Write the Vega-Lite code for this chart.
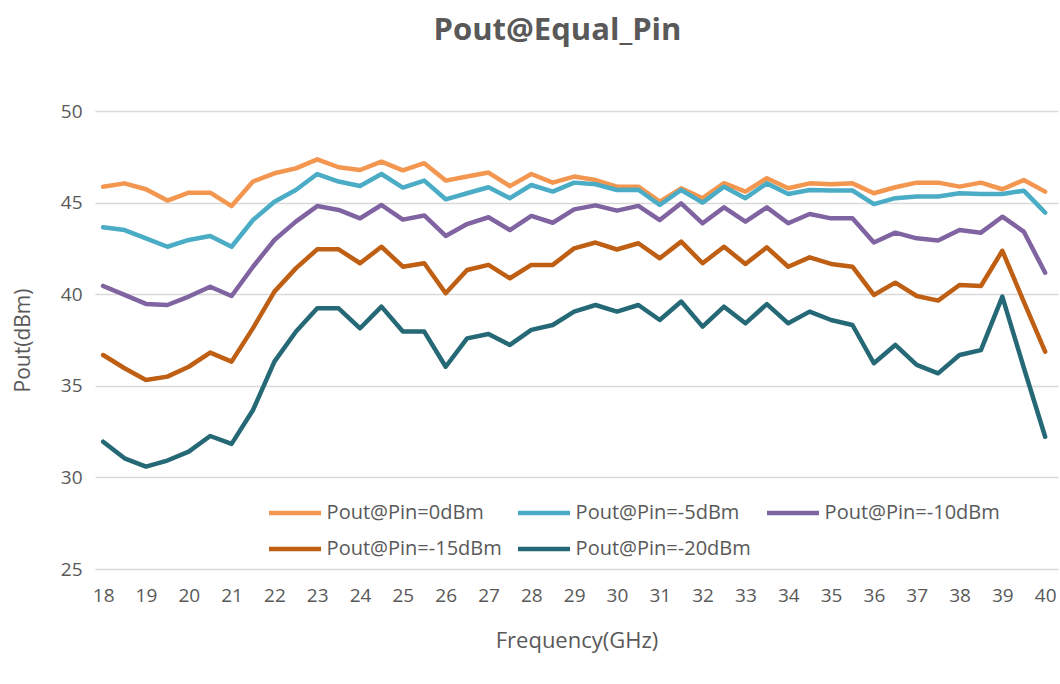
{
  "$schema": "https://vega.github.io/schema/vega-lite/v6.json",
  "width": 963,
  "height": 458,
  "autosize": {"type": "none"},
  "padding": {"left": 95, "top": 111, "right": 2, "bottom": 115},
  "background": "white",
  "title": {"text": "Pout@Equal_Pin", "font": "Open Sans", "fontSize": 31, "fontWeight": "bold", "color": "#595959", "anchor": "middle", "dx": -19, "baseline": "alphabetic", "offset": 31},
  "data": {"values": [
    {"f": 18, "a": 45.87, "b": 43.65, "c": 40.45, "d": 36.68, "e": 31.95},
    {"f": 18.5, "a": 46.05, "b": 43.5, "c": 39.96, "d": 35.96, "e": 31.04},
    {"f": 19, "a": 45.73, "b": 43.05, "c": 39.47, "d": 35.32, "e": 30.59},
    {"f": 19.5, "a": 45.11, "b": 42.59, "c": 39.41, "d": 35.5, "e": 30.92},
    {"f": 20, "a": 45.54, "b": 42.96, "c": 39.87, "d": 36.04, "e": 31.41},
    {"f": 20.5, "a": 45.54, "b": 43.18, "c": 40.41, "d": 36.81, "e": 32.26},
    {"f": 21, "a": 44.81, "b": 42.59, "c": 39.9, "d": 36.32, "e": 31.83},
    {"f": 21.5, "a": 46.15, "b": 44.05, "c": 41.5, "d": 38.15, "e": 33.68},
    {"f": 22, "a": 46.6, "b": 45.05, "c": 42.96, "d": 40.14, "e": 36.32},
    {"f": 22.5, "a": 46.87, "b": 45.69, "c": 43.96, "d": 41.41, "e": 37.95},
    {"f": 23, "a": 47.36, "b": 46.56, "c": 44.81, "d": 42.45, "e": 39.23},
    {"f": 23.5, "a": 46.93, "b": 46.15, "c": 44.6, "d": 42.45, "e": 39.23},
    {"f": 24, "a": 46.78, "b": 45.91, "c": 44.14, "d": 41.69, "e": 38.14},
    {"f": 24.5, "a": 47.24, "b": 46.56, "c": 44.87, "d": 42.59, "e": 39.32},
    {"f": 25, "a": 46.76, "b": 45.82, "c": 44.07, "d": 41.5, "e": 37.96},
    {"f": 25.5, "a": 47.15, "b": 46.2, "c": 44.3, "d": 41.69, "e": 37.96},
    {"f": 26, "a": 46.2, "b": 45.18, "c": 43.18, "d": 40.05, "e": 36.04},
    {"f": 26.5, "a": 46.42, "b": 45.51, "c": 43.83, "d": 41.32, "e": 37.59},
    {"f": 27, "a": 46.64, "b": 45.84, "c": 44.2, "d": 41.6, "e": 37.83},
    {"f": 27.5, "a": 45.9, "b": 45.24, "c": 43.5, "d": 40.87, "e": 37.23},
    {"f": 28, "a": 46.56, "b": 45.96, "c": 44.27, "d": 41.6, "e": 38.05},
    {"f": 28.5, "a": 46.09, "b": 45.6, "c": 43.9, "d": 41.6, "e": 38.32},
    {"f": 29, "a": 46.42, "b": 46.09, "c": 44.63, "d": 42.5, "e": 39.05},
    {"f": 29.5, "a": 46.23, "b": 46.0, "c": 44.85, "d": 42.82, "e": 39.41},
    {"f": 30, "a": 45.87, "b": 45.69, "c": 44.56, "d": 42.44, "e": 39.05},
    {"f": 30.5, "a": 45.87, "b": 45.7, "c": 44.82, "d": 42.78, "e": 39.41},
    {"f": 31, "a": 45.05, "b": 44.87, "c": 44.05, "d": 41.96, "e": 38.59},
    {"f": 31.5, "a": 45.78, "b": 45.69, "c": 44.96, "d": 42.87, "e": 39.6},
    {"f": 32, "a": 45.24, "b": 45.0, "c": 43.87, "d": 41.69, "e": 38.23},
    {"f": 32.5, "a": 46.06, "b": 45.87, "c": 44.74, "d": 42.59, "e": 39.32},
    {"f": 33, "a": 45.6, "b": 45.24, "c": 43.96, "d": 41.65, "e": 38.41},
    {"f": 33.5, "a": 46.33, "b": 46.05, "c": 44.74, "d": 42.56, "e": 39.46},
    {"f": 34, "a": 45.78, "b": 45.47, "c": 43.87, "d": 41.5, "e": 38.41},
    {"f": 34.5, "a": 46.05, "b": 45.69, "c": 44.38, "d": 42.01, "e": 39.05},
    {"f": 35, "a": 46.0, "b": 45.66, "c": 44.14, "d": 41.65, "e": 38.59},
    {"f": 35.5, "a": 46.05, "b": 45.66, "c": 44.14, "d": 41.5, "e": 38.32},
    {"f": 36, "a": 45.51, "b": 44.92, "c": 42.82, "d": 39.96, "e": 36.23},
    {"f": 36.5, "a": 45.84, "b": 45.24, "c": 43.36, "d": 40.63, "e": 37.23},
    {"f": 37, "a": 46.09, "b": 45.33, "c": 43.05, "d": 39.9, "e": 36.14},
    {"f": 37.5, "a": 46.09, "b": 45.33, "c": 42.93, "d": 39.65, "e": 35.68},
    {"f": 38, "a": 45.87, "b": 45.51, "c": 43.5, "d": 40.5, "e": 36.68},
    {"f": 38.5, "a": 46.09, "b": 45.47, "c": 43.36, "d": 40.45, "e": 36.95},
    {"f": 39, "a": 45.73, "b": 45.47, "c": 44.23, "d": 42.37, "e": 39.87},
    {"f": 39.5, "a": 46.23, "b": 45.65, "c": 43.42, "d": 39.6, "e": 36.0},
    {"f": 40, "a": 45.6, "b": 44.45, "c": 41.17, "d": 36.86, "e": 32.22}
  ]},
  "transform": [
    {"fold": ["a", "b", "c", "d", "e"], "as": ["key", "v"]},
    {"lookup": "key", "from": {"data": {"values": [
      {"key": "a", "series": "Pout@Pin=0dBm"},
      {"key": "b", "series": "Pout@Pin=-5dBm"},
      {"key": "c", "series": "Pout@Pin=-10dBm"},
      {"key": "d", "series": "Pout@Pin=-15dBm"},
      {"key": "e", "series": "Pout@Pin=-20dBm"}
    ]}, "key": "key", "fields": ["series"]}}
  ],
  "mark": {"type": "line", "strokeWidth": 4.5, "strokeJoin": "round", "strokeCap": "round"},
  "encoding": {
    "x": {
      "field": "f", "type": "quantitative",
      "scale": {"domain": [17.81, 40.3], "nice": false, "zero": false},
      "axis": {
        "values": [18, 19, 20, 21, 22, 23, 24, 25, 26, 27, 28, 29, 30, 31, 32, 33, 34, 35, 36, 37, 38, 39, 40],
        "grid": false, "ticks": false, "domain": false,
        "labelFont": "Open Sans", "labelFontSize": 19, "labelColor": "#595959", "labelPadding": 17,
        "title": "Frequency(GHz)", "titleFont": "Open Sans", "titleFontSize": 22, "titleFontWeight": "normal", "titleColor": "#595959", "titlePadding": 25
      }
    },
    "y": {
      "field": "v", "type": "quantitative",
      "scale": {"domain": [25, 50], "nice": false, "zero": false},
      "axis": {
        "values": [25, 30, 35, 40, 45, 50],
        "grid": true, "gridColor": "#D9D9D9", "gridWidth": 1.5, "ticks": false, "domain": false,
        "labelFont": "Open Sans", "labelFontSize": 19, "labelColor": "#595959", "labelPadding": 13,
        "title": "Pout(dBm)", "titleFont": "Open Sans", "titleFontSize": 21, "titleFontWeight": "normal", "titleColor": "#595959",
        "titleX": -72, "titleY": 229, "titleBaseline": "middle", "titleAngle": -90
      }
    },
    "color": {
      "field": "series", "type": "nominal",
      "scale": {
        "domain": ["Pout@Pin=0dBm", "Pout@Pin=-5dBm", "Pout@Pin=-10dBm", "Pout@Pin=-15dBm", "Pout@Pin=-20dBm"],
        "range": ["#F29650", "#4BACC6", "#8064A2", "#BE5F14", "#266976"]
      },
      "legend": {
        "title": null, "orient": "none", "legendX": 187, "legendY": 389, "columns": 3, "direction": "horizontal",
        "symbolType": "M-2.5,0H2.5", "symbolSize": 433, "symbolStrokeWidth": 4.5,
        "labelFont": "Open Sans", "labelFontSize": 20, "labelColor": "#595959", "labelOffset": 18.6, "labelLimit": 400,
        "columnPadding": 6, "rowPadding": 13
      }
    }
  },
  "config": {"view": {"stroke": null}}
}
